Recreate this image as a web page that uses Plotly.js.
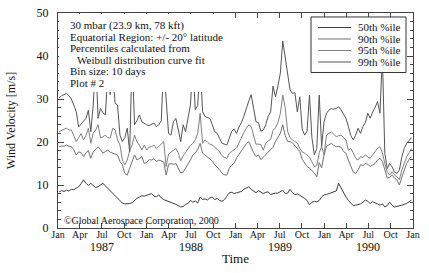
<!DOCTYPE html>
<html><head><meta charset="utf-8">
<script src="https://cdn.plot.ly/plotly-3.0.1.min.js"></script>
<style>html,body{margin:0;padding:0;background:#fff;}#chart{width:429px;height:273px;}</style>
</head><body><div id="chart"></div>
<script>
// ---- data ----
const binStartUTC = [1987, 0, 1];   // first bin starts 1 Jan 1987
const binSizeDays = 10;
const seriesNames = ['50th %ile', '90th %ile', '95th %ile', '99th %ile'];

const p50 = [
 8.4,8.7,8.5,8.8,8.6,9.0,8.9,9.2,9.6,10.3,11.2,10.4,9.9,10.4,10.0,9.4,9.6,10.0,10.4,9.8,9.2,8.6,8.1,7.6,7.0,6.4,5.8,5.6,5.6,5.7,5.9,6.5,6.9,7.2,7.5,7.4,7.6,
 7.8,8.0,7.4,7.3,7.7,7.0,6.6,6.4,6.2,6.0,5.7,5.5,5.2,4.9,5.0,5.5,5.7,6.4,6.0,6.3,5.8,7.2,6.6,6.8,6.5,7.0,7.2,6.6,6.9,6.4,6.2,6.6,7.4,8.2,8.3,8.0,
 8.2,8.3,8.5,9.0,9.3,9.6,9.0,8.6,8.2,8.7,8.4,8.0,8.3,8.4,7.8,8.0,8.1,8.1,8.4,8.8,8.0,8.1,9.0,8.2,7.8,7.9,7.6,7.3,6.9,6.4,5.4,6.0,6.2,6.1,6.4,7.2,7.7,
 7.8,8.0,8.2,8.4,8.6,10.4,9.2,8.3,7.2,6.4,5.8,5.2,5.3,5.5,5.6,6.0,6.5,6.2,5.7,6.1,5.9,5.6,5.3,5.6,4.9,5.2,6.0,5.3,4.9,5.0,5.2,5.3,5.5,5.7,6.1,6.5
];
const p90 = [
 18.9,19.1,19.0,19.3,19.0,18.9,18.2,17.0,17.7,17.5,16.6,17.5,18.0,16.2,17.7,18.4,18.9,18.2,17.4,17.8,18.1,17.6,17.4,17.2,17.0,15.5,14.7,12.7,12.3,13.9,15.5,17.0,15.8,16.2,16.6,15.0,15.2,
 15.9,15.8,16.1,15.5,15.8,15.6,15.4,12.3,14.8,15.0,14.8,15.0,14.0,12.8,13.0,13.9,14.6,15.8,17.0,17.4,18.3,19.7,17.4,17.0,16.5,16.0,15.6,14.7,14.2,13.6,12.7,12.4,12.3,13.9,14.6,15.1,
 16.3,17.2,18.0,18.8,19.6,20.1,18.7,17.5,16.6,17.0,15.9,16.5,17.0,17.6,18.3,18.8,20.1,21.0,22.0,24.0,21.5,20.1,20.1,19.8,19.2,18.5,17.8,16.0,15.0,14.3,13.9,13.3,12.8,11.9,15.2,14.0,17.0,
 19.0,19.3,19.7,19.2,18.9,19.0,18.8,17.8,17.4,15.8,14.3,13.0,12.7,13.5,14.7,14.5,15.0,14.8,14.3,14.6,15.0,15.8,16.2,15.5,13.5,11.6,11.8,12.3,11.6,11.2,10.0,12.0,13.5,15.0,16.0,16.6
];
const p95 = [
 22.4,22.8,23.0,23.2,22.8,22.8,21.6,20.1,21.0,22.0,20.5,21.5,23.2,19.7,22.0,22.8,24.0,20.9,21.2,21.6,21.0,20.9,23.2,22.8,20.5,19.3,15.8,14.7,15.8,18.0,19.3,21.6,20.0,19.3,18.1,19.3,18.1,
 18.8,18.9,19.3,18.5,18.9,19.5,20.1,14.3,17.2,17.7,18.1,18.5,17.5,15.6,16.8,17.7,18.5,19.2,19.7,20.5,22.0,26.7,19.7,20.5,20.0,19.5,19.3,18.9,18.3,17.7,16.8,16.4,16.2,17.4,17.8,18.2,
 18.6,19.8,21.2,22.2,23.2,24.0,23.6,21.4,19.5,19.5,19.4,18.1,19.7,20.3,20.6,22.7,23.3,24.5,26.6,30.9,28.0,22.5,21.0,20.5,20.0,19.7,18.5,17.7,17.4,17.0,16.5,15.4,14.3,14.5,17.5,19.0,17.0,
 21.6,22.0,22.4,21.8,21.2,21.5,21.6,21.0,20.5,18.1,18.5,17.5,16.2,15.8,16.6,16.4,17.0,16.5,16.2,17.0,17.7,18.5,18.9,17.5,15.0,13.0,12.3,13.1,12.3,11.9,11.2,13.5,15.0,16.6,17.5,18.5
];
const p99 = [
 30.2,30.8,31.0,31.3,30.8,30.0,28.6,27.1,23.5,24.2,25.0,25.5,27.4,22.4,28.6,40.0,25.5,27.8,26.8,26.3,36.0,31.0,37.0,29.0,28.6,21.6,20.1,21.0,23.2,17.7,40.0,24.0,25.0,26.3,24.7,24.3,24.0,
 23.8,24.2,24.4,23.6,24.0,25.0,38.0,30.0,22.0,21.6,24.7,25.5,22.5,20.1,24.0,22.4,25.5,28.6,38.0,27.5,28.5,38.0,27.1,25.9,25.7,25.5,24.0,22.4,22.0,21.0,19.7,19.5,19.3,20.9,22.5,23.0,
 22.0,23.5,24.5,26.0,28.0,29.5,31.0,27.5,24.7,24.5,22.5,22.8,24.0,26.0,27.0,33.0,30.5,33.0,36.0,43.5,40.0,36.0,32.1,31.3,31.5,27.0,30.5,23.0,21.6,22.5,30.9,21.0,17.0,18.5,30.9,19.0,24.7,
 26.7,27.4,27.8,27.6,27.8,28.2,27.5,26.5,25.5,23.6,21.5,20.5,21.6,23.2,22.0,23.6,24.5,26.7,25.5,27.0,28.0,29.4,26.7,40.0,17.4,13.8,15.0,14.2,13.0,12.7,13.5,16.5,18.5,19.7,20.4,21.0
];

const tickDates = ['1987-01-01','1987-04-01','1987-07-01','1987-10-01','1988-01-01','1988-04-01','1988-07-01','1988-10-01',
  '1989-01-01','1989-04-01','1989-07-01','1989-10-01','1990-01-01','1990-04-01','1990-07-01','1990-10-01','1991-01-01'];
const tickText = ['Jan','Apr','Jul','Oct','Jan','Apr','Jul','Oct','Jan','Apr','Jul','Oct','Jan','Apr','Jul','Oct','Jan'];
const yearLabels = ['1987','1988','1989','1990'];
const yearLabelDates = ['1987-07-01','1988-07-01','1989-07-01','1990-07-01'];
const noteLines = ['30 mbar (23.9 km, 78 kft)', 'Equatorial Region: +/- 20\u00b0 latitude', 'Percentiles calculated from',
  'Weibull distribution curve fit', 'Bin size: 10 days', 'Plot # 2'];
const noteIndent = [0, 0, 0, 7, 0, 0];
const copyright = '\u00a9Global Aerospace Corporation, 2000';

// ---- build ----
const t0 = Date.UTC(binStartUTC[0], binStartUTC[1], binStartUTC[2]);
const dates = p50.map((_, i) => new Date(t0 + (i * binSizeDays + binSizeDays / 2) * 86400000).toISOString().slice(0, 10));

const colors = ['#3c3c3c', '#707070', '#808080', '#555555'];
const all = [p50, p90, p95, p99];
const serif = 'Liberation Serif, Times New Roman, serif';

const traces = all.map((v, k) => ({
  x: dates, y: v, type: 'scatter', mode: 'lines', name: seriesNames[k],
  line: {color: colors[k], width: 1}, showlegend: false, hoverinfo: 'x+y'
}));

const annotations = [];
const shapes = [];
// white box behind the notes
shapes.push({type: 'rect', xref: 'paper', yref: 'paper', x0: 0.003, x1: 0.479, y0: 0.632, y1: 0.995,
  fillcolor: '#ffffff', line: {width: 0}, layer: 'above'});
noteLines.forEach((t, i) => annotations.push({
  text: t, xref: 'paper', yref: 'paper', x: 0.028, y: 0.944 - i * 0.0535, xanchor: 'left', yanchor: 'middle',
  xshift: noteIndent[i], showarrow: false, font: {family: serif, size: 11, color: '#111'}
}));
annotations.push({text: copyright, xref: 'paper', yref: 'paper', x: 0.011, y: 0.037, xanchor: 'left', yanchor: 'middle',
  showarrow: false, font: {family: serif, size: 10, color: '#111'}});
yearLabels.forEach((t, i) => annotations.push({
  text: t, xref: 'x', yref: 'paper', x: yearLabelDates[i], y: -0.088, xanchor: 'center', yanchor: 'middle',
  showarrow: false, font: {family: serif, size: 12, color: '#111'}
}));
// legend box
shapes.push({type: 'rect', xref: 'paper', yref: 'paper', x0: 0.7127, x1: 0.9803, y0: 0.7233, y1: 0.9814,
  fillcolor: '#ffffff', line: {color: '#333', width: 1}, layer: 'above'});
const rowY = [0.9326, 0.8791, 0.8256, 0.7721];
seriesNames.forEach((n, k) => {
  shapes.push({type: 'line', xref: 'paper', yref: 'paper', x0: 0.7324, x1: 0.8254, y0: rowY[k], y1: rowY[k],
    line: {color: colors[k], width: 1}, layer: 'above'});
  annotations.push({text: n, xref: 'paper', yref: 'paper', x: 0.8394, y: rowY[k], xanchor: 'left', yanchor: 'middle',
    showarrow: false, font: {family: serif, size: 11, color: '#111'}});
});

const layout = {
  width: 429, height: 273,
  margin: {l: 58, r: 16, t: 13, b: 45},
  paper_bgcolor: '#fff', plot_bgcolor: '#fff',
  font: {family: serif, color: '#111'},
  showlegend: false,
  xaxis: {
    type: 'date', range: ['1987-01-01', '1991-01-01'],
    tickvals: tickDates, ticktext: tickText, tickangle: 0,
    ticks: 'inside', ticklen: 5, tickcolor: '#444', mirror: 'ticks',
    showline: true, linecolor: '#444', linewidth: 1, showgrid: false, zeroline: false,
    ticklabelstandoff: -3,
    tickfont: {family: serif, size: 10, color: '#111'},
    title: {text: 'Time', font: {family: serif, size: 13, color: '#111'}, standoff: 14}
  },
  yaxis: {
    range: [0, 50], dtick: 10, tick0: 0,
    ticks: 'inside', ticklen: 6, tickcolor: '#444', mirror: 'ticks',
    minor: {dtick: 2, ticks: 'inside', ticklen: 3, tickcolor: '#444'},
    showline: true, linecolor: '#444', linewidth: 1, showgrid: false, zeroline: false,
    ticklabelstandoff: 6,
    tickfont: {family: serif, size: 12, color: '#111'},
    title: {text: 'Wind Velocity [m/s]', font: {family: serif, size: 12, color: '#111'}, standoff: 18}
  },
  shapes: shapes,
  annotations: annotations
};

Plotly.newPlot('chart', traces, layout, {staticPlot: true, displayModeBar: false});
</script>
</body></html>
